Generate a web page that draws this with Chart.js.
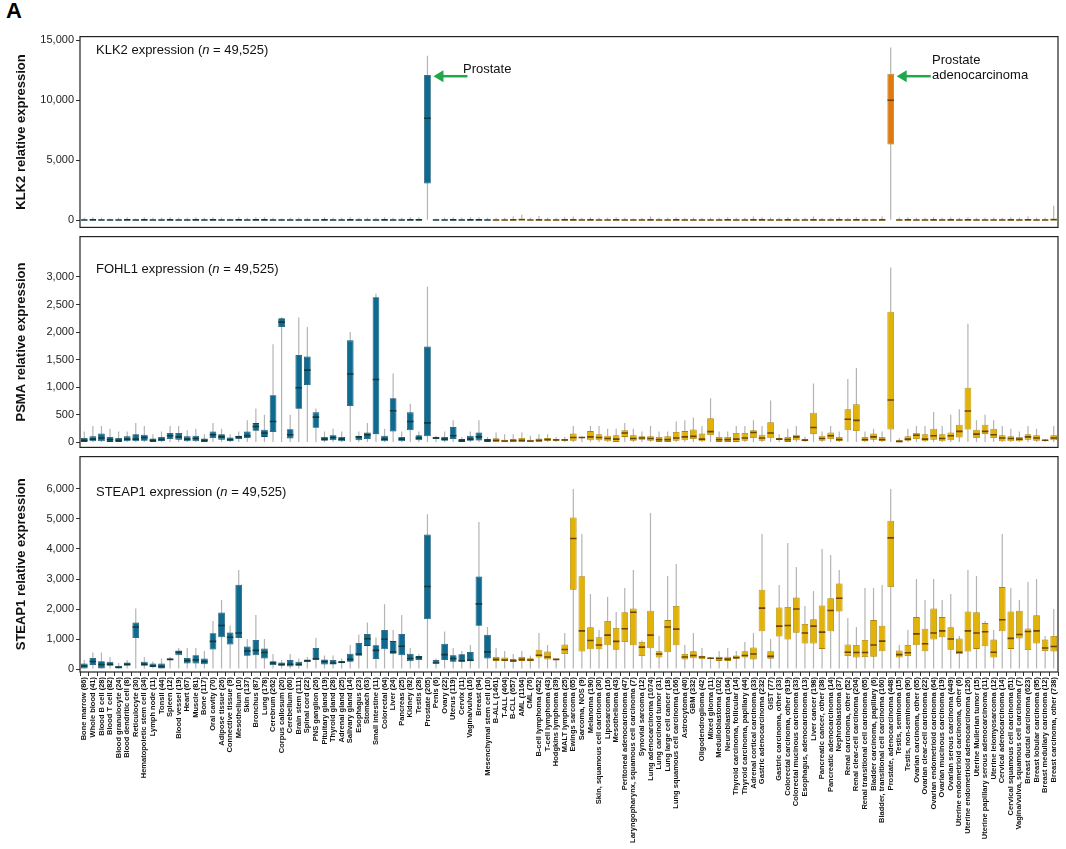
<!DOCTYPE html>
<html>
<head>
<meta charset="utf-8">
<script src="https://cdn.jsdelivr.net/npm/chart.js@4/dist/chart.umd.min.js"></script>
<style>
  body { margin:0; background:#fff; font-family:"Liberation Sans", Arial, sans-serif; }
  #wrap { position:relative; width:1066px; height:849px; overflow:hidden; }
  .panel { position:absolute; left:0; width:1066px; }
  .ttl { position:absolute; font-size:13px; color:#111; }
  .ann { position:absolute; font-size:13px; color:#111; line-height:15px; }
</style>
</head>
<body>
<div id="wrap">
  <div style="position:absolute;left:6px;top:-2px;font-size:22px;font-weight:bold;">A</div>
  <div class="panel" style="top:28px;height:208px"><canvas id="c1"></canvas></div>
  <div class="panel" style="top:228px;height:228px"><canvas id="c2"></canvas></div>
  <div class="panel" style="top:448px;height:401px"><canvas id="c3"></canvas></div>
  <div class="ttl" style="left:96px;top:42px">KLK2 expression (<i>n</i> = 49,525)</div>
  <div class="ttl" style="left:96px;top:261px">FOHL1 expression (<i>n</i> = 49,525)</div>
  <div class="ttl" style="left:96px;top:484px">STEAP1 expression (<i>n</i> = 49,525)</div>
  <div class="ann" style="left:463px;top:61px">Prostate</div>
  <div class="ann" style="left:932px;top:52px">Prostate<br>adenocarcinoma</div>
</div>
<script>
// categories (1-48 normal tissues/cells, 49-114 cancers)
var labels = ['Bone marrow (86)','Whole blood (41)','Blood B cell (28)','Blood T cell (82)','Blood granulocyte (24)','Blood dendritic cell (8)','Reticulocyte (30)','Hematopoietic stem cell (34)','Lymph node (11)','Tonsil (44)',
'Spleen (12)','Blood vessel (19)','Heart (67)','Muscle (81)','Bone (117)','Oral cavity (70)','Adipose tissue (26)','Connective tissue (9)','Mesothelium (10)','Skin (137)',
'Bronchus (87)','Lung (178)','Cerebrum (262)','Corpus callosum (20)','Cerebellum (60)','Brain stem (111)','Spinal cord (22)','PNS ganglion (26)','Pituitary gland (19)','Thyroid gland (28)',
'Adrenal gland (25)','Salivary gland (14)','Esophagus (23)','Stomach (63)','Small intestine (11)','Colorectal (64)','Liver (24)','Pancreas (25)','Kidney (92)','Testis (28)',
'Prostate (205)','Penis (6)','Ovary (22)','Uterus (119)','Cervix (11)','Vagina/vulva (16)','Breast (94)','Mesenchymal stem cell (10)','B-ALL (1461)','T-ALL (404)',
'B-CLL (657)','AML (1164)','CML (76)','B-cell lymphoma (452)','T-cell lymphoma (43)','Hodgkins lymphoma (39)','MALT lymphoma (25)','Ewings sarcoma (65)','Sarcoma, NOS (9)','Melanoma (190)',
'Skin, squamous cell carcinoma (30)','Liposarcoma (16)','Mesothelioma (43)','Peritoneal adenocarcinoma (47)','Laryngopharynx, squamous cell carcinoma (7)','Synovial sarcoma (12)','Lung adenocarcinoma (1074)','Lung carcinoid tumor (31)','Lung large cell cancer (18)','Lung squamous cell carcinoma (166)',
'Astrocytoma (40)','GBM (332)','Oligodendroglioma (42)','Mixed glioma (11)','Medulloblastoma (102)','Neuroblastoma (164)','Thyroid carcinoma, follicular (14)','Thyroid carcinoma, papillary (44)','Adrenal cortical carcinoma (33)','Gastric adenocarcinoma (232)',
'GIST (77)','Gastric carcinoma, other (33)','Colorectal carcinoma, other (919)','Colorectal mucinous carcinoma (33)','Esophagus, adenocarcinoma (13)','Liver cancer (198)','Pancreatic cancer, other (38)','Pancreatic adenocarcinoma (14)','Nephroblastoma (37)','Renal carcinoma, other (52)',
'Renal clear-cell carcinoma (204)','Renal transitional cell carcinoma (65)','Bladder carcinoma, papillary (6)','Bladder, transitional cell carcinoma (160)','Prostate, adenocarcinoma (448)','Testis, seminoma (15)','Testis, non-seminoma (90)','Ovarian carcinoma, other (65)','Ovarian clear-cell carcinoma (22)','Ovarian endometrioid carcinoma (64)',
'Ovarian mucinous carcinoma (19)','Ovarian serous carcinoma (449)','Uterine endometrioid carcinoma, other (6)','Uterine endometrioid adenocarcinoma (126)','Uterine Mullerian tumor (15)','Uterine papillary serous adenocarcinoma (11)','Uterine leiomyosarcoma (12)','Cervical adenocarcinoma (14)','Cervical squamous cell carcinoma (51)','Vagina/vulva, squamous cell carcinoma (7)',
'Breast ductal carcinoma (623)','Breast lobular carcinoma (95)','Breast medullary carcinoma (12)','Breast carcinoma, other (738)'];

// y tick labels per panel
var klkTicks = [0, 5000, 10000, 15000];
var psmaTicks = [0, 500, 1000, 1500, 2000, 2500, 3000];
var stTicks = [0, 1000, 2000, 3000, 4000, 5000, 6000];

// KLK2
var klkQ1 = [0,0,0,0,0,0,0,0,0,0, 0,0,0,0,0,0,0,0,0,0, 0,0,0,0,0,0,0,0,0,0, 0,0,0,0,0,0,0,0,0,0,
  3050,0,0,0,0,0,0,0,0,0, 0,0,0,0,0,0,0,0,0,0, 0,0,0,0,0,0,0,0,0,0, 0,0,0,0,0,0,0,0,0,0,
  0,0,0,0,0,0,0,0,0,0, 0,0,0,0,6300,0,0,0,0,0, 0,0,0,0,0,0,0,0,0,0, 0,0,0,0];
var klkMed = [20,30,20,20,20,30,20,30,20,20, 30,20,20,30,20,30,20,20,30,20, 30,30,20,20,20,20,20,20,30,20, 20,30,20,20,20,30,20,20,30,30,
  8500,20,20,30,20,30,30,20,20,20, 30,40,20,30,20,20,30,30,20,30, 20,20,30,20,20,20,30,20,20,30, 20,20,20,20,20,30,20,20,30,30,
  20,20,30,20,20,30,20,20,30,20, 30,20,20,30,10000,20,30,20,20,30, 20,30,20,30,20,20,20,20,30,20, 30,20,20,40];
var klkQ3 = [60,80,60,50,60,90,50,80,60,60, 80,60,60,90,60,80,60,60,90,60, 90,80,60,60,60,60,60,60,80,60, 60,90,60,60,60,80,60,60,90,80,
  12100,60,60,80,60,80,90,60,60,60, 90,150,60,100,60,60,80,90,60,80, 60,60,80,60,60,60,80,60,60,80, 60,60,60,60,60,90,60,60,80,80,
  60,60,80,60,60,80,60,60,90,60, 80,60,60,80,12200,60,80,60,60,80, 60,80,60,80,60,60,60,60,80,60, 90,60,60,150];
var klkHi = [200,250,200,150,200,250,150,250,200,200, 250,200,200,250,200,250,200,150,250,200, 250,250,200,150,200,200,200,150,250,200, 200,250,200,200,200,250,200,200,250,250,
  13700,150,200,250,200,250,250,200,200,200, 300,450,200,350,200,200,250,300,200,250, 200,200,250,200,150,200,300,200,200,250, 200,200,200,200,200,250,200,200,300,250,
  200,200,250,200,200,300,200,200,250,200, 250,200,150,300,14400,200,250,200,200,250, 200,250,200,250,200,200,200,200,250,200, 300,200,200,1200];

// PSMA (FOLH1)
var psmaQ1 = [10,20,20,10,10,20,20,30,10,20, 60,50,20,20,10,80,50,20,60,80, 210,100,190,2090,70,610,1040,267,30,40, 20,660,40,60,150,20,200,20,220,40,
  110,60,30,60,10,30,35,10, 10,5,5,10,5,10,30,30,30,30, 80,40,40,20,10,100,30,50,30,10, 10,30,40,60,20,135,10,10,10,30,
  80,30,75,50,10,40,20,150,30,60, 20,220,205,20,50,20,235,5,30,60, 20,50,20,40,90,235,80,150,80,20, 20,20,50,30,30,40];
var psmaMed = [40,60,80,50,40,60,60,90,40,50, 120,100,60,70,40,140,100,50,100,120, 290,170,380,2180,140,990,1310,458,60,90, 60,1240,100,140,1140,60,575,60,380,80,
  355,80,60,120,30,60,100,40, 40,25,30,40,25,40,50,45,45,90, 90,100,90,70,60,170,70,80,70,50, 50,80,100,110,60,195,50,50,60,80,
  180,80,170,60,50,100,40,270,70,120, 50,420,400,50,100,50,770,20,60,130, 60,120,70,120,200,570,150,200,140,80, 70,60,100,80,40,80];
var psmaQ3 = [80,110,160,100,80,110,150,140,70,100, 170,170,110,120,70,200,150,90,120,200, 350,230,855,2250,240,1585,1555,545,100,130, 100,1850,120,180,2630,120,800,100,545,130,
  1740,100,100,280,60,120,180,60, 75,50,60,80,50,70,80,60,60,160, 100,205,150,120,130,220,130,110,110,100, 110,190,205,235,160,440,100,100,170,170,
  220,140,365,80,100,140,60,540,120,180, 100,600,690,100,160,100,2370,40,110,170, 150,250,150,180,320,990,230,320,250,130, 110,100,150,130,50,130];
var psmaHi = [200,300,300,250,200,200,350,300,150,200, 300,300,220,250,150,350,250,150,200,400, 615,500,1780,2270,500,2265,2090,615,200,250, 200,2000,200,350,2700,250,1250,200,700,200,
  2820,120,200,400,100,200,400,100, 180,150,150,180,120,150,150,100,100,300, 110,300,300,250,250,350,250,200,300,200, 200,380,400,450,300,800,200,200,300,300,
  400,300,760,150,250,300,100,1070,200,300, 200,1150,1350,200,250,200,3170,80,250,300, 300,550,300,500,600,2150,400,500,400,300, 250,200,300,250,60,300];

// STEAP1
var stQ1 = [20,130,0,110,20,110,1030,110,70,20, 300,460,185,185,160,650,1060,820,1030,440, 460,350,130,110,80,110,240,300,150,150, 190,240,440,770,330,660,510,460,260,300,
  1660,190,300,240,260,260,1440,350, 270,270,240,270,270,380,320,300,500,2640, 585,660,660,790,640,900,790,430,690,380, 560,790,320,360,330,340,270,270,340,380,
  320,1260,340,1080,980,1210,850,850,670,1260, 1920,430,380,400,410,590,2730,380,430,790, 590,980,1060,640,500,585,670,760,380,1260, 670,1020,630,850,600,580];
var stMed = [100,250,150,160,60,160,1400,160,100,80, 320,560,280,300,250,920,1450,1060,1200,600, 620,550,200,150,160,150,270,340,250,200, 230,320,500,1010,620,990,570,760,350,380,
  2750,200,480,350,270,290,2170,570, 320,300,270,320,300,460,400,320,650,4350, 1270,950,800,1130,920,1340,1890,730,1130,500, 1400,1330,400,450,400,360,350,330,380,450,
  500,2030,420,1430,1450,2000,1200,1430,1230,1950, 2360,560,550,550,800,930,4370,480,540,1170, 840,1200,1270,1000,560,1270,1200,1240,560,1640, 1020,1150,1250,1270,700,750];
var stQ3 = [185,370,260,240,110,220,1550,240,185,185, 350,620,370,460,350,1190,1880,1220,2810,750, 970,680,260,220,300,240,320,700,320,300, 260,510,870,1170,790,1300,930,1170,510,430,
  4480,300,840,460,490,570,3080,1140, 400,380,330,400,360,640,580,330,815,5050, 3090,1390,1055,1600,1370,1890,2020,900,1940,590, 1630,2100,500,590,440,380,410,410,450,590,
  720,2640,590,2050,2070,2380,1500,1660,2120,2360, 2850,815,800,970,1630,1440,4940,620,800,1730, 1340,2020,1730,1390,1020,1920,1890,1530,980,2730, 1920,1940,1350,1790,980,1100];
var stHi = [300,550,550,400,200,300,2020,400,250,350, 400,700,700,700,600,1600,2300,1450,3300,1000, 1800,1000,500,300,500,350,400,1030,450,450, 350,800,1150,1550,1050,2160,1300,1800,700,500,
  5160,350,1250,700,600,800,4900,1400, 700,600,500,600,450,1200,800,350,1200,6000, 4500,2500,1300,2400,1900,2700,3300,950,5200,1100, 3100,3500,800,1200,700,400,600,700,600,900,
  1200,4500,1000,2800,4200,3400,2100,2600,4000,3800, 3300,1700,1400,2700,2700,2800,6000,800,1300,3000, 2300,3000,2300,2500,1100,3300,3100,1600,1300,4500, 2700,2300,2900,3000,1100,2000];

var BLUE = '#0f6a90', YELLOW = '#e2b208';
var nNormal = 48;

var framePlugin = {
  id: 'frame',
  afterDraw: function(chart) {
    var a = chart.chartArea, ctx = chart.ctx;
    ctx.save();
    ctx.strokeStyle = '#222';
    ctx.lineWidth = 1.2;
    ctx.strokeRect(a.left, a.top, a.right - a.left, a.bottom - a.top);
    ctx.restore();
  }
};

var arrowPlugin = {
  id: 'arrows',
  afterDraw: function(chart) {
    if (chart.canvas.id !== 'c1') return;
    var xs = chart.scales.x, ys = chart.scales.y, ctx = chart.ctx;
    function arrow(idx) {
      var x0 = xs.getPixelForValue(idx) + 6;
      var y0 = ys.getPixelForValue(12000);
      ctx.save();
      ctx.strokeStyle = '#1fa84a'; ctx.fillStyle = '#1fa84a'; ctx.lineWidth = 2.5;
      ctx.beginPath(); ctx.moveTo(x0 + 34, y0); ctx.lineTo(x0 + 8, y0); ctx.stroke();
      ctx.beginPath(); ctx.moveTo(x0, y0); ctx.lineTo(x0 + 10, y0 - 6); ctx.lineTo(x0 + 10, y0 + 6); ctx.closePath(); ctx.fill();
      ctx.restore();
    }
    arrow(40); arrow(94);
  }
};

function makePanel(id, q1, med, q3, hi, yTitle, ymin, ymax, tickVals, showX) {
  var colors = labels.map(function(l, i) { return i < nNormal ? BLUE : YELLOW; });
  var edge = labels.map(function(l, i) { return i < nNormal ? '#0a4d69' : '#a88200'; });
  var medCol = labels.map(function(l, i) { return i < nNormal ? '#123a3a' : '#6b4300'; });
  if (id === 'c1') { colors[94] = '#e07a10'; }
  return new Chart(document.getElementById(id), {
    type: 'bar',
    data: {
      labels: labels,
      datasets: [
        { data: hi.map(function(v, i) { return [0, v]; }), backgroundColor: '#b4b4b4',
          barPercentage: 0.14, categoryPercentage: 1, grouped: false, order: 3 },
        { data: q1.map(function(v, i) { return [v, q3[i]]; }), backgroundColor: colors, borderColor: edge,
          borderWidth: 0.8, borderSkipped: false, barPercentage: 0.78, categoryPercentage: 1, grouped: false, order: 2 },
        { type: 'line', data: med, showLine: false, pointStyle: 'line', pointRadius: 3.2,
          pointBorderColor: medCol, pointBorderWidth: 1.6, order: 1 }
      ]
    },
    options: {
      responsive: true, maintainAspectRatio: false, animation: false,
      layout: { padding: { top: 4, bottom: showX ? 0 : 4, right: 8, left: 0 } },
      plugins: { legend: { display: false }, tooltip: { enabled: false } },
      scales: {
        x: {
          display: showX, offset: true,
          grid: { drawOnChartArea: false, tickLength: 4, color: '#333' },
          border: { display: false },
          ticks: { autoSkip: false, minRotation: 90, maxRotation: 90, padding: 1,
                   font: { family: 'Liberation Sans', size: 7.5, weight: 'bold' }, color: '#111' },
          afterFit: function(s) { s.height = showX ? 177 : 0; }
        },
        y: {
          min: ymin, max: ymax,
          grid: { drawOnChartArea: false, tickLength: 4, color: '#333' },
          border: { display: false },
          ticks: { font: { family: 'Liberation Sans', size: 11 }, color: '#222', padding: 2,
                   callback: function(v) { return v.toLocaleString('en-US'); } },
          afterBuildTicks: function(s) { s.ticks = tickVals.map(function(v) { return { value: v }; }); },
          afterFit: function(s) { s.width = 80; },
          title: { display: true, text: yTitle, font: { family: 'Liberation Sans', size: 13, weight: 'bold' }, color: '#111', padding: { top: 14, bottom: 0 } }
        }
      }
    },
    plugins: [framePlugin, arrowPlugin]
  });
}

makePanel('c1', klkQ1, klkMed, klkQ3, klkHi, 'KLK2 relative expression', -600, 15300, klkTicks, false);
makePanel('c2', psmaQ1, psmaMed, psmaQ3, psmaHi, 'PSMA relative expression', -90, 3730, psmaTicks, false);
makePanel('c3', stQ1, stMed, stQ3, stHi, 'STEAP1 relative expression', -100, 7080, stTicks, true);
</script>
</body>
</html>
